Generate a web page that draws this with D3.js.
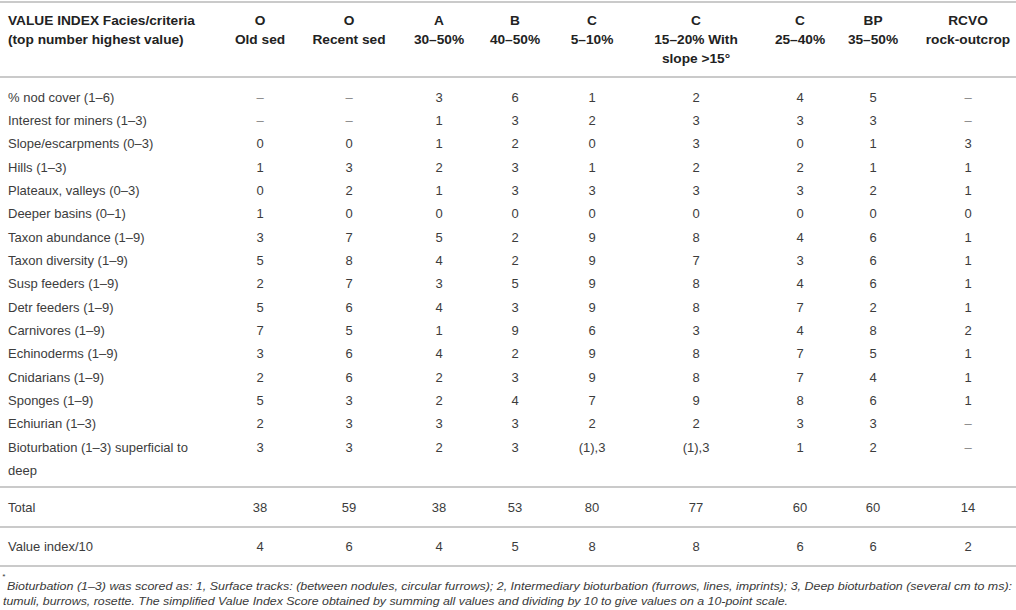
<html>
<head>
<meta charset="utf-8" />
<script src="https://cdn.jsdelivr.net/npm/d3@7/dist/d3.min.js"></script>
<style>
body { margin: 0; background: #fff; }
svg text { font-family: "Liberation Sans", Arial, sans-serif; }
.cell { font-size: 13px; fill: #3c3c3c; }
.dash { font-size: 13px; fill: #888; }
.head { font-size: 13.7px; font-weight: bold; fill: #222; }
.rule { stroke: #cacaca; stroke-width: 2px; }
.note { font-size: 11px; font-style: italic; fill: #3a3a3a; }
</style>
</head>
<body>
<svg id="tbl" width="1016" height="610"></svg>
<script>

// table content
var cornerLabel = ["VALUE INDEX Facies/criteria", "(top number highest value)"];
var faciesCodes = ["O", "O", "A", "B", "C", "C", "C", "BP", "RCVO"];
var faciesLabels = [["Old sed"], ["Recent sed"], ["30–50%"], ["40–50%"], ["5–10%"],
                    ["15–20% With", "slope >15°"], ["25–40%"], ["35–50%"], ["rock-outcrop"]];

var criteria = [
  ["% nod cover (1–6)"],
  ["Interest for miners (1–3)"],
  ["Slope/escarpments (0–3)"],
  ["Hills (1–3)"],
  ["Plateaux, valleys (0–3)"],
  ["Deeper basins (0–1)"],
  ["Taxon abundance (1–9)"],
  ["Taxon diversity (1–9)"],
  ["Susp feeders (1–9)"],
  ["Detr feeders (1–9)"],
  ["Carnivores (1–9)"],
  ["Echinoderms (1–9)"],
  ["Cnidarians (1–9)"],
  ["Sponges (1–9)"],
  ["Echiurian (1–3)"],
  ["Bioturbation (1–3) superficial to", "deep"]
];

var scores = [
  ["–", "–", "3", "6", "1", "2", "4", "5", "–"],
  ["–", "–", "1", "3", "2", "3", "3", "3", "–"],
  ["0", "0", "1", "2", "0", "3", "0", "1", "3"],
  ["1", "3", "2", "3", "1", "2", "2", "1", "1"],
  ["0", "2", "1", "3", "3", "3", "3", "2", "1"],
  ["1", "0", "0", "0", "0", "0", "0", "0", "0"],
  ["3", "7", "5", "2", "9", "8", "4", "6", "1"],
  ["5", "8", "4", "2", "9", "7", "3", "6", "1"],
  ["2", "7", "3", "5", "9", "8", "4", "6", "1"],
  ["5", "6", "4", "3", "9", "8", "7", "2", "1"],
  ["7", "5", "1", "9", "6", "3", "4", "8", "2"],
  ["3", "6", "4", "2", "9", "8", "7", "5", "1"],
  ["2", "6", "2", "3", "9", "8", "7", "4", "1"],
  ["5", "3", "2", "4", "7", "9", "8", "6", "1"],
  ["2", "3", "3", "3", "2", "2", "3", "3", "–"],
  ["3", "3", "2", "3", "(1),3", "(1),3", "1", "2", "–"]
];

var totalLabel = "Total";
var totals = [38, 59, 38, 53, 80, 77, 60, 60, 14];
var valueLabel = "Value index/10";
var valueIndex = [4, 6, 4, 5, 8, 8, 6, 6, 2];

var footnote = [
  "Bioturbation (1–3) was scored as: 1, Surface tracks: (between nodules, circular furrows); 2, Intermediary bioturbation (furrows, lines, imprints); 3, Deep bioturbation (several cm to ms):",
  "tumuli, burrows, rosette. The simplified Value Index Score obtained by summing all values and dividing by 10 to give values on a 10-point scale."
];

// layout
var W = 1016, H = 610;
var leftX = 8;
var colX = d3.scaleOrdinal()
    .domain(d3.range(faciesCodes.length))
    .range([260, 349, 439, 515, 592, 696, 800, 873, 968]);
var headY = d3.scaleLinear().domain([0, 1]).range([20, 39]);   // header text lines
var rowY = d3.scaleLinear().domain([0, 1]).range([97, 120.35]); // body rows
var wrapGap = 23;

var svg = d3.select("#tbl");

function rule(y) {
  svg.append("line").attr("class", "rule")
    .attr("x1", 0).attr("x2", W).attr("y1", y).attr("y2", y);
}

// header
rule(2);
svg.append("g").selectAll("text")
  .data(cornerLabel)
  .join("text")
    .attr("class", "head")
    .attr("x", leftX)
    .attr("y", function(d, i) { return headY(i); })
    .attr("dy", "0.35em")
    .text(function(d) { return d; });

var hcol = svg.append("g").selectAll("g")
  .data(faciesCodes)
  .join("g")
    .attr("transform", function(d, i) { return "translate(" + colX(i) + ",0)"; });

hcol.selectAll("text")
  .data(function(d, i) { return [d].concat(faciesLabels[i]); })
  .join("text")
    .attr("class", "head")
    .attr("text-anchor", "middle")
    .attr("y", function(d, i) { return headY(i); })
    .attr("dy", "0.35em")
    .text(function(d) { return d; });

rule(77);

// body rows
var body = svg.append("g").selectAll("g")
  .data(criteria)
  .join("g")
    .attr("transform", function(d, i) { return "translate(0," + rowY(i) + ")"; });

body.selectAll("text.lab")
  .data(function(d) { return d; })
  .join("text")
    .attr("class", "cell lab")
    .attr("x", leftX)
    .attr("y", function(d, i) { return i * wrapGap; })
    .attr("dy", "0.35em")
    .text(function(d) { return d; });

body.selectAll("text.val")
  .data(function(d, i) { return scores[i]; })
  .join("text")
    .attr("class", function(d) { return d === "–" ? "dash val" : "cell val"; })
    .attr("text-anchor", "middle")
    .attr("x", function(d, i) { return colX(i); })
    .attr("dy", "0.35em")
    .text(function(d) { return d; });

// summary rows
rule(487);
function summary(y, label, vals) {
  var g = svg.append("g").attr("transform", "translate(0," + y + ")");
  g.append("text").attr("class", "cell").attr("x", leftX).attr("dy", "0.35em").text(label);
  g.selectAll("text.val")
    .data(vals)
    .join("text")
      .attr("class", "cell val")
      .attr("text-anchor", "middle")
      .attr("x", function(d, i) { return colX(i); })
      .attr("dy", "0.35em")
      .text(function(d) { return d; });
}
summary(507, totalLabel, totals);
rule(527);
summary(546, valueLabel, valueIndex);
rule(566);

// footnote
svg.append("text").attr("class", "note")
  .attr("x", 2).attr("y", 579).style("font-size", "8px").text("*");
svg.append("g").selectAll("text")
  .data(footnote)
  .join("text")
    .attr("class", "note")
    .attr("x", function(d, i) { return i === 0 ? 7 : 3; })
    .attr("y", function(d, i) { return 586 + i * 15; })
    .attr("dy", "0.35em")
    .attr("textLength", function(d, i) { return i === 0 ? 1005 : 785; })
    .attr("lengthAdjust", "spacingAndGlyphs")
    .text(function(d) { return d; });

</script>
</body>
</html>
